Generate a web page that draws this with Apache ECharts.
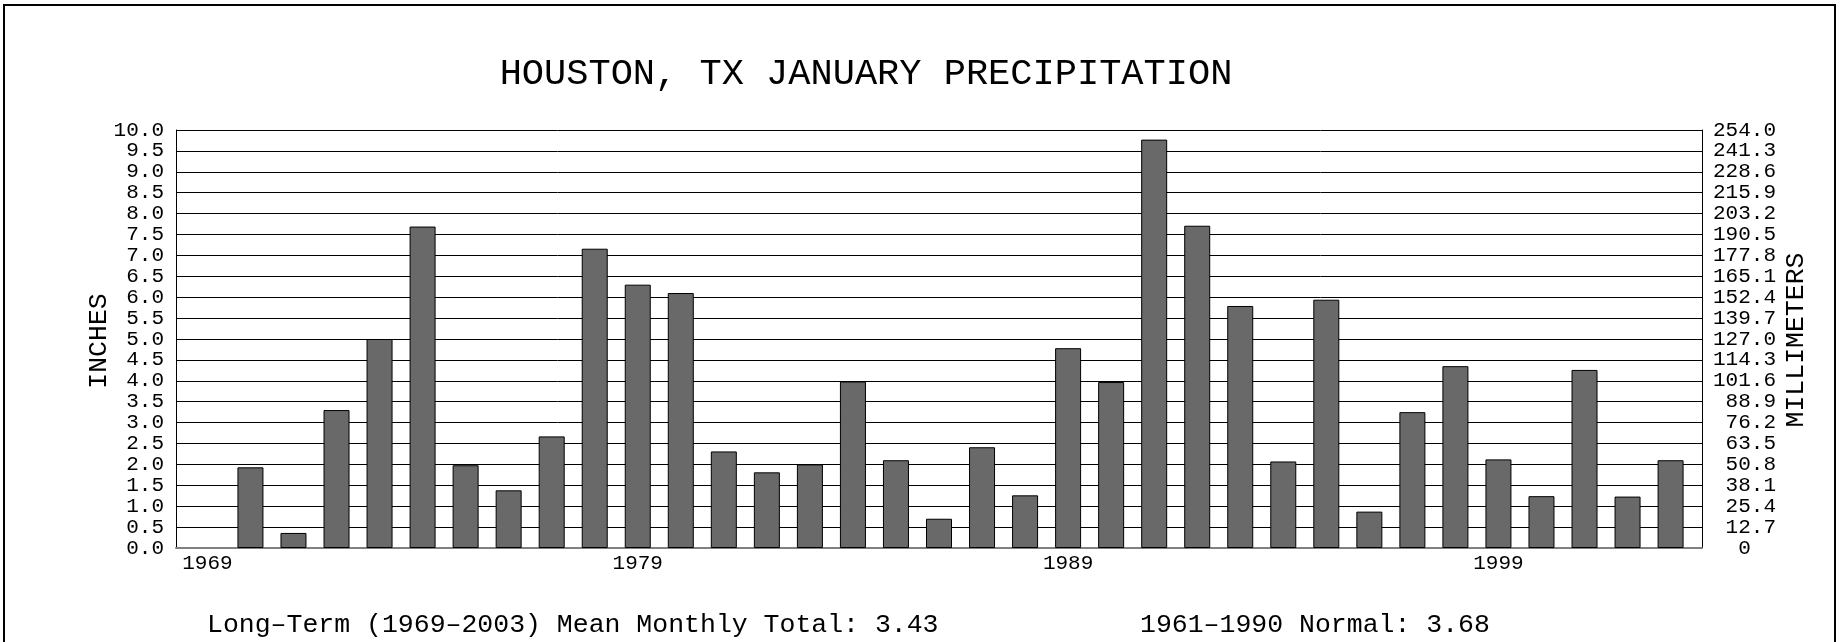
<!DOCTYPE html>
<html>
<head>
<meta charset="utf-8">
<title>Houston, TX January Precipitation</title>
<script src="https://cdn.jsdelivr.net/npm/echarts@6/dist/echarts.min.js"></script>
<style>
  html, body { margin: 0; padding: 0; background: #fff; }
  #chart { width: 1843px; height: 642px; }
</style>
</head>
<body>
<div id="chart"></div>
<script>
// 数据：1969-2003 每年一月降水量（英寸）
const years = [1969, 1970, 1971, 1972, 1973, 1974, 1975, 1976, 1977, 1978,
  1979, 1980, 1981, 1982, 1983, 1984, 1985, 1986, 1987, 1988,
  1989, 1990, 1991, 1992, 1993, 1994, 1995, 1996, 1997, 1998,
  1999, 2000, 2001, 2002, 2003];
const precipInches = [0, 1.93, 0.36, 3.30, 5.00, 7.69, 1.98, 1.38, 2.67, 7.16,
  6.30, 6.10, 2.31, 1.81, 2.00, 3.98, 2.10, 0.70, 2.41, 1.26,
  4.78, 3.97, 9.77, 7.71, 5.79, 2.07, 5.94, 0.87, 3.25, 4.35,
  2.12, 1.24, 4.26, 1.23, 2.10];
// 刻度标签
const yearLabels = [1969, 1979, 1989, 1999];
const inchLabels = ['0.0', '0.5', '1.0', '1.5', '2.0', '2.5', '3.0', '3.5', '4.0', '4.5',
  '5.0', '5.5', '6.0', '6.5', '7.0', '7.5', '8.0', '8.5', '9.0', '9.5', '10.0'];
const mmLabels = ['0', '12.7', '25.4', '38.1', '50.8', '63.5', '76.2', '88.9', '101.6', '114.3',
  '127.0', '139.7', '152.4', '165.1', '177.8', '190.5', '203.2', '215.9', '228.6', '241.3', '254.0'];

(function () {
  let myChart = echarts.init(document.getElementById("chart"));
  const FONT = '"Liberation Mono", "DejaVu Sans Mono", monospace';

  let option = {
    animation: false,
    backgroundColor: "#fff",
    grid: {
      left: 176,
      right: 141,
      top: 130,
      bottom: 94,
    },
    xAxis: {
      type: "value",
      min: 1968.27,
      max: 2003.73,
      axisLine: {
        show: true,
        lineStyle: { color: "#808080", width: 2 },
      },
      axisTick: { show: false },
      splitLine: { show: false },
      axisLabel: {
        customValues: yearLabels,
        margin: 5,
        color: "#000",
        fontFamily: FONT,
        fontSize: 21,
        formatter: function (v) {
          return String(v);
        },
      },
    },
    yAxis: [
      {
        type: "value",
        min: 0,
        max: 10,
        interval: 0.5,
        axisLine: {
          show: true,
          lineStyle: { color: "#000", width: 1 },
        },
        axisTick: { show: false },
        splitLine: {
          show: true,
          lineStyle: { color: "#000", width: 1 },
        },
        axisLabel: {
          margin: 12,
          color: "#000",
          fontFamily: FONT,
          fontSize: 21,
          formatter: function (v, i) {
            return inchLabels[i];
          },
        },
      },
      {
        type: "value",
        position: "right",
        min: 0,
        max: 10,
        interval: 0.5,
        axisLine: {
          show: true,
          lineStyle: { color: "#000", width: 1 },
        },
        axisTick: { show: false },
        splitLine: { show: false },
        axisLabel: {
          margin: 74,
          align: "right",
          color: "#000",
          fontFamily: FONT,
          fontSize: 21,
          // 0 在原图中居中显示
          formatter: function (v, i) {
            let s = mmLabels[i];
            return s === "0" ? "0  " : s;
          },
        },
      },
    ],
    graphic: [
      {
        type: "rect",
        shape: { x: 4, y: 5, width: 1831, height: 700 },
        style: { fill: "none", stroke: "#000", lineWidth: 2 },
        silent: true,
      },
      {
        type: "text",
        x: 866,
        y: 74,
        style: {
          text: "HOUSTON, TX JANUARY PRECIPITATION",
          fill: "#000",
          font: "37px " + FONT,
          align: "center",
          verticalAlign: "middle",
        },
      },
      {
        type: "text",
        x: 99,
        y: 341,
        rotation: Math.PI / 2,
        style: {
          text: "INCHES",
          fill: "#000",
          font: "26.5px " + FONT,
          align: "center",
          verticalAlign: "middle",
        },
      },
      {
        type: "text",
        x: 1796,
        y: 340,
        rotation: Math.PI / 2,
        style: {
          text: "MILLIMETERS",
          fill: "#000",
          font: "26.5px " + FONT,
          align: "center",
          verticalAlign: "middle",
        },
      },
      {
        type: "text",
        x: 207,
        y: 625,
        style: {
          text: "Long–Term (1969–2003) Mean Monthly Total: 3.43",
          fill: "#000",
          font: "26.5px " + FONT,
          align: "left",
          verticalAlign: "middle",
        },
      },
      {
        type: "text",
        x: 1140,
        y: 625,
        style: {
          text: "1961–1990 Normal: 3.68",
          fill: "#000",
          font: "26.5px " + FONT,
          align: "left",
          verticalAlign: "middle",
        },
      },
    ],
    series: [
      {
        name: "January",
        type: "bar",
        barWidth: 26,
        data: years.map(function (y, i) {
          // 数值为 0 的年份不画边框
          return precipInches[i] === 0
            ? { value: [y, precipInches[i]], itemStyle: { borderWidth: 0 } }
            : [y, precipInches[i]];
        }),
        itemStyle: {
          color: "#696969",
          borderColor: "#000",
          borderWidth: 1,
        },
      },
    ],
  };

  myChart.setOption(option);
  window.addEventListener("resize", function () {
    myChart.resize();
  });
})();
</script>
</body>
</html>
